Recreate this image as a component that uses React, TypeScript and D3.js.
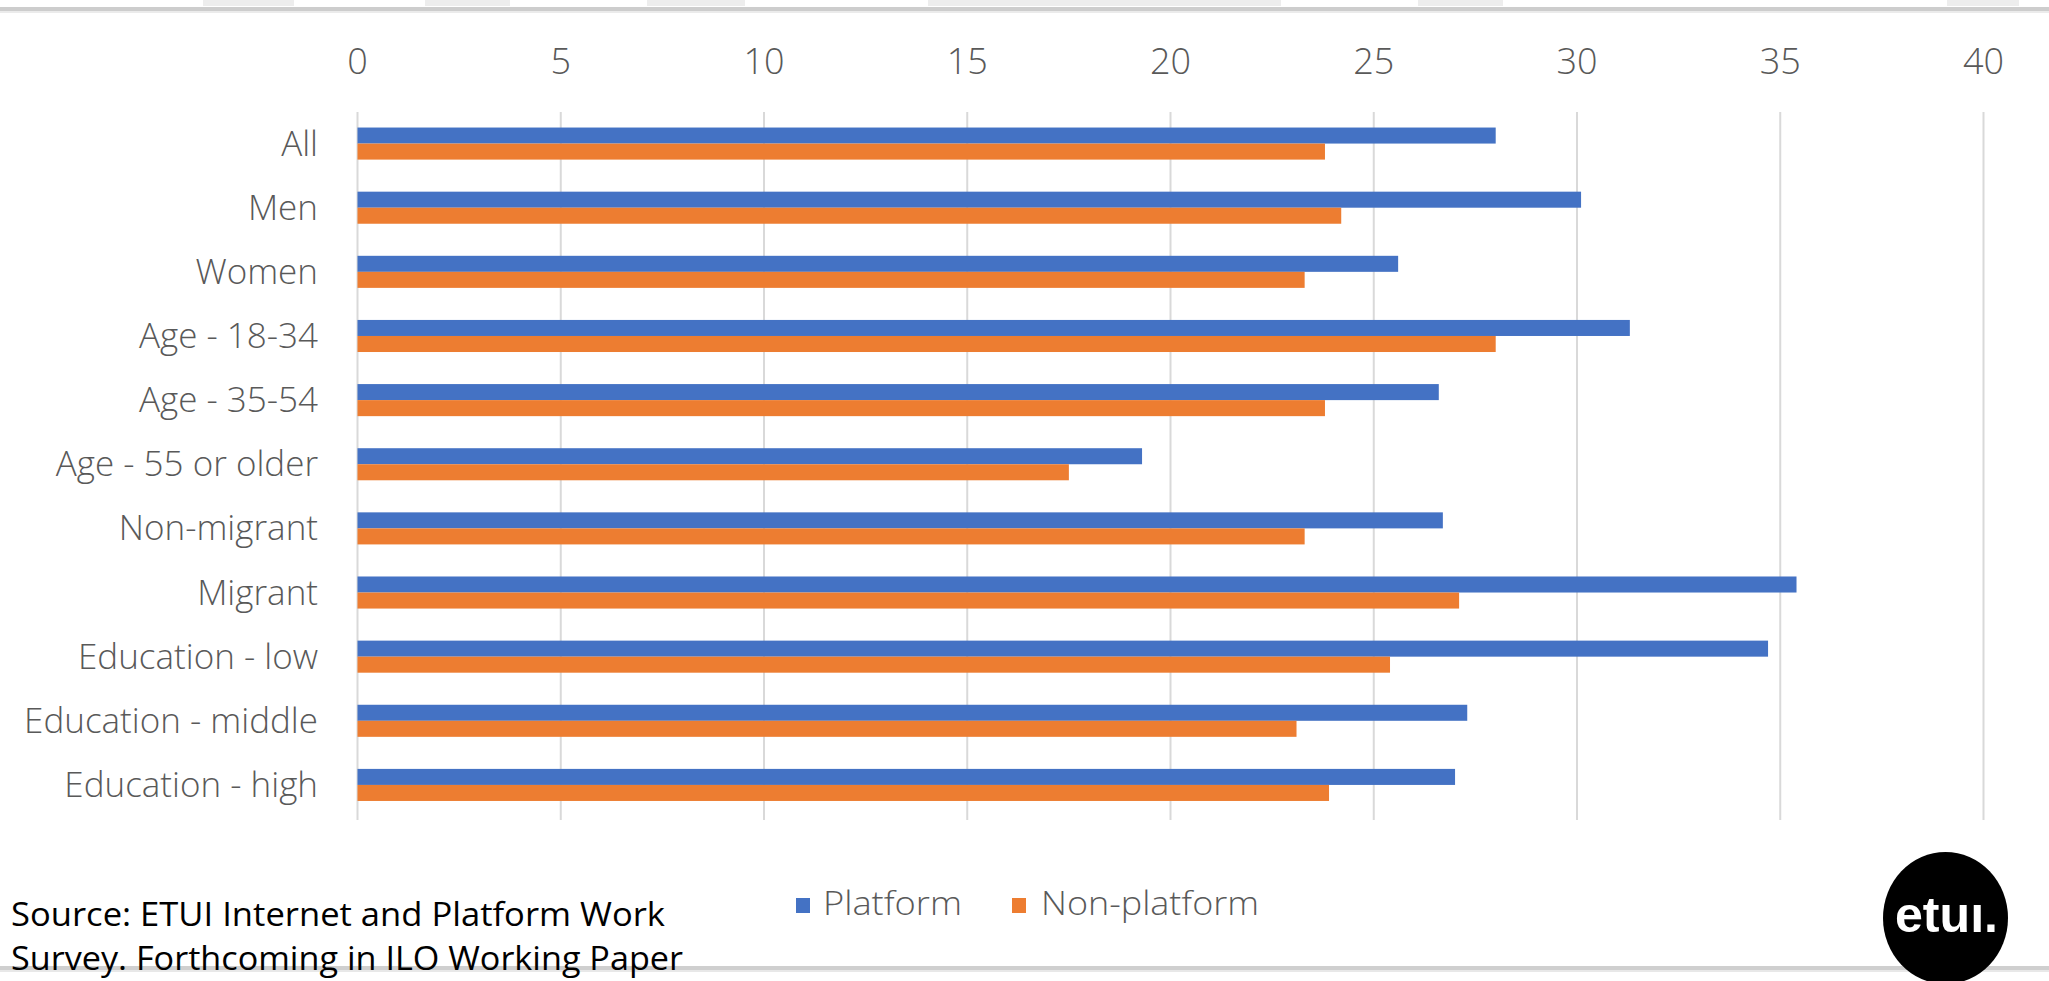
import React from "react";
import * as d3 from "d3";

const categories = [
  "All",
  "Men",
  "Women",
  "Age - 18-34",
  "Age - 35-54",
  "Age - 55 or older",
  "Non-migrant",
  "Migrant",
  "Education - low",
  "Education - middle",
  "Education - high",
];
const platform = [28.0, 30.1, 25.6, 31.3, 26.6, 19.3, 26.7, 35.4, 34.7, 27.3, 27.0];
const nonPlatform = [23.8, 24.2, 23.3, 28.0, 23.8, 17.5, 23.3, 27.1, 25.4, 23.1, 23.9];
const seriesNames = ["Platform", "Non-platform"];
const xTicks = [0, 5, 10, 15, 20, 25, 30, 35, 40];
const sourceLines = [
  "Source: ETUI Internet and Platform Work",
  "Survey. Forthcoming in ILO Working Paper",
];

const W = 2049;
const H = 981;
const COLORS = ["#4472C4", "#ED7D31"];
const FONT = "'Open Sans', 'Noto Sans', sans-serif";
const GRAY = "#595959";

export default function App() {
  const x = d3.scaleLinear().domain([0, 40]).range([357.5, 1983.5]);
  const y = d3
    .scaleBand<string>()
    .domain(categories)
    .range([111.5, 817])
    .paddingInner(0.5)
    .paddingOuter(0.25);
  const ySub = d3.scaleBand<string>().domain(seriesNames).range([0, y.bandwidth()]);
  const color = d3.scaleOrdinal<string, string>().domain(seriesNames).range(COLORS);
  const seriesValues = [platform, nonPlatform];

  const headerBits = [
    [203, 294],
    [425, 510],
    [647, 745],
    [928, 1281],
    [1418, 1503],
    [1947, 2019],
  ];

  return (
    <svg
      width={W}
      height={H}
      viewBox={`0 0 ${W} ${H}`}
      style={{ position: "absolute", left: 0, top: 0, background: "#fff" }}
    >
      <rect x={0} y={0} width={W} height={H} fill="#ffffff" />
      {/* cut-off header remnants */}
      {headerBits.map(([a, b], i) => (
        <rect key={i} x={a} y={0} width={b - a} height={6} fill="#ededed" />
      ))}
      <rect x={0} y={7} width={W} height={4} fill="#cdcdcd" />
      <rect x={0} y={11} width={W} height={2} fill="#ebebeb" />

      {/* gridlines */}
      {xTicks.map((t) => (
        <line
          key={`g${t}`}
          x1={x(t)}
          x2={x(t)}
          y1={112}
          y2={820}
          stroke="#d9d9d9"
          strokeWidth={2}
        />
      ))}
      {/* tick labels */}
      {xTicks.map((t) => (
        <text
          key={`t${t}`}
          x={x(t)}
          y={74}
          textAnchor="middle"
          fontFamily={FONT}
          fontWeight={300}
          fontSize={36}
          fill={GRAY}
        >
          {t}
        </text>
      ))}

      {/* bars */}
      {seriesNames.map((s, si) =>
        categories.map((c, ci) => (
          <rect
            key={`${s}-${c}`}
            x={x(0)}
            y={(y(c) as number) + (ySub(s) as number)}
            width={x(seriesValues[si][ci]) - x(0)}
            height={ySub.bandwidth()}
            fill={color(s)}
          />
        ))
      )}

      {/* category labels */}
      {categories.map((c) => (
        <text
          key={`c${c}`}
          x={318}
          y={(y(c) as number) + y.bandwidth() / 2 + 12}
          textAnchor="end"
          fontFamily={FONT}
          fontWeight={300}
          fontSize={35}
          fill={GRAY}
        >
          {c}
        </text>
      ))}

      {/* legend */}
      <rect x={796} y={898} width={14} height={15} fill={color(seriesNames[0])} />
      <text x={823} y={915} fontFamily={FONT} fontWeight={300} fontSize={33} fill={GRAY}
        textLength={139} lengthAdjust="spacingAndGlyphs">
        {seriesNames[0]}
      </text>
      <rect x={1012} y={898} width={14} height={15} fill={color(seriesNames[1])} />
      <text x={1041} y={915} fontFamily={FONT} fontWeight={300} fontSize={33} fill={GRAY}
        textLength={218} lengthAdjust="spacingAndGlyphs">
        {seriesNames[1]}
      </text>

      {/* bottom rule */}
      <rect x={0} y={966} width={W} height={4} fill="#cfcfcf" />
      <rect x={0} y={970} width={W} height={2} fill="#e8e8e8" />

      {/* source */}
      <text
        x={11}
        y={926}
        fontFamily={FONT}
        fontSize={32}
        fill="#000"
        textLength={654}
        lengthAdjust="spacingAndGlyphs"
      >
        {sourceLines[0]}
      </text>
      <text
        x={11}
        y={970}
        fontFamily={FONT}
        fontSize={32}
        fill="#000"
        textLength={672}
        lengthAdjust="spacingAndGlyphs"
      >
        {sourceLines[1]}
      </text>

      {/* logo */}
      <ellipse cx={1945.5} cy={918} rx={62.5} ry={66} fill="#000" />
      <text
        x={1946.5}
        y={932}
        textAnchor="middle"
        fontFamily="'Liberation Sans', 'Open Sans', sans-serif"
        fontWeight={700}
        fontSize={50}
        fill="#fff"
        textLength={103}
        lengthAdjust="spacingAndGlyphs"
      >
        etuı.
      </text>
    </svg>
  );
}
